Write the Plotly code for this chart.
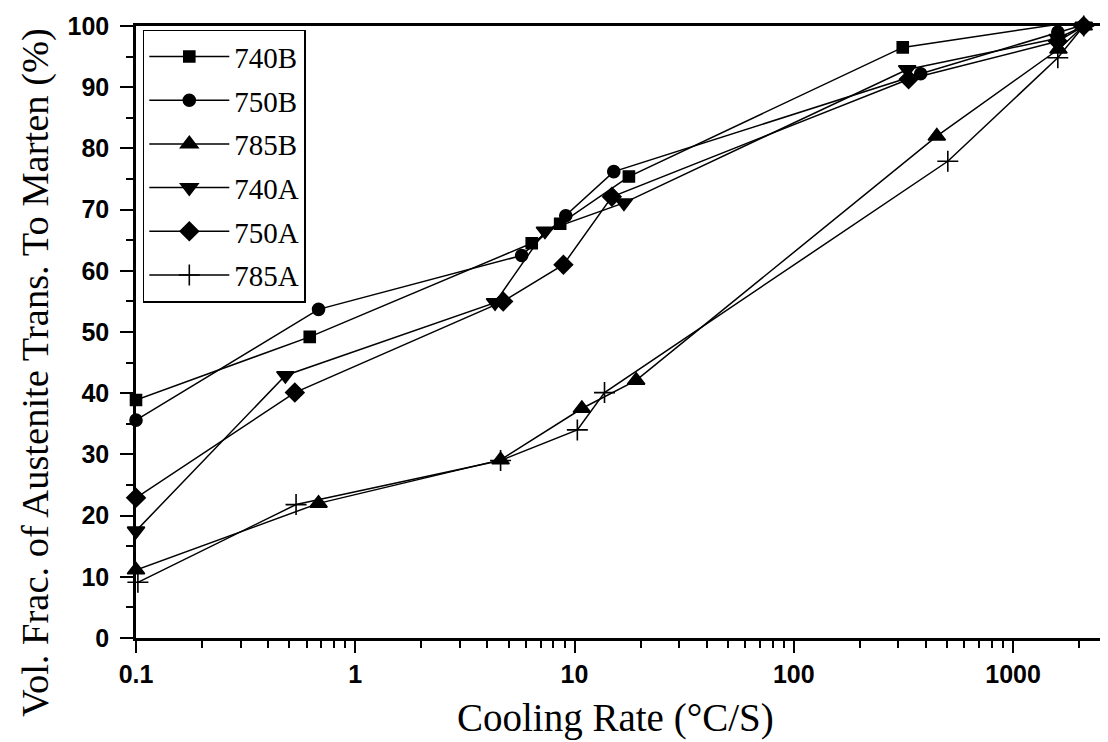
import plotly.graph_objects as go

# ---- data ----
names = ["740B", "750B", "785B", "740A", "750A", "785A"]

x_740B = [0.1, 0.62, 6.38, 8.6, 17.7, 314, 1620]
y_740B = [38.9, 49.2, 64.5, 67.7, 75.4, 96.5, 100.3]

x_750B = [0.1, 0.68, 5.74, 9.12, 15.1, 379, 1600, 2100]
y_750B = [35.6, 53.7, 62.5, 69.0, 76.2, 92.2, 99.0, 100.2]

x_785B = [0.1, 0.68, 4.6, 10.8, 19.1, 449, 1611, 2100]
y_785B = [11.1, 22.0, 29.1, 37.5, 42.1, 82.0, 96.2, 100.0]

x_740A = [0.1, 0.48, 4.34, 7.33, 16.8, 329, 1600, 2100]
y_740A = [17.5, 42.9, 54.8, 66.5, 71.1, 92.9, 98.0, 100.0]

x_750A = [0.1, 0.53, 4.73, 8.9, 14.8, 334, 1600, 2100]
y_750A = [22.9, 40.1, 55.0, 61.0, 72.1, 91.3, 97.5, 100.0]

x_785A = [0.102, 0.537, 4.6, 10.3, 13.7, 504, 1600, 2100]
y_785A = [9.1, 21.8, 29.0, 34.0, 40.1, 77.9, 94.8, 100.0]

x_tickvals = [0.1, 1, 10, 100, 1000]
x_ticktext = ["0.1", "1", "10", "100", "1000"]
y_tickvals = [0, 10, 20, 30, 40, 50, 60, 70, 80, 90, 100]

x_title = "Cooling Rate (°C/S)"
y_title = "Vol. Frac. of Austenite Trans. To Marten (%)"

series_x = [x_740B, x_750B, x_785B, x_740A, x_750A, x_785A]
series_y = [y_740B, y_750B, y_785B, y_740A, y_750A, y_785A]
symbols = ["square", "circle", "triangle-up", "triangle-down", "diamond", "cross-thin"]
sizes = [11, 12, 15, 15, 14, 15]

fig = go.Figure()
for i, nm in enumerate(names):
    fig.add_trace(go.Scatter(
        x=series_x[i], y=series_y[i], name=nm, mode="lines+markers",
        legendgroup=nm,
        line=dict(color="black", width=1.5),
        marker=dict(symbol=symbols[i], size=sizes[i], color="black",
                    line=dict(color="black", width=1.6)),
        cliponaxis=False,
    ))

SERIF = "Liberation Serif, Times New Roman, serif"
SANS = "Liberation Sans, Arial, sans-serif"

# page body adds an 8px offset, so the figure is 1100x734 and margins are reduced by 8
fig.update_layout(
    width=1100, height=734,
    margin=dict(l=128, r=0, t=18, b=104),
    paper_bgcolor="white", plot_bgcolor="white",
    showlegend=True,
    legend=dict(
        x=0.007, y=0.994, xanchor="left", yanchor="top",
        bordercolor="black", borderwidth=1.5, bgcolor="white",
        font=dict(family=SERIF, size=29, color="black"),
        itemwidth=80, tracegroupgap=3,
    ),
    xaxis=dict(
        type="log", range=[-1, 3.433], automargin=False,
        tickvals=x_tickvals, ticktext=x_ticktext,
        ticks="outside", ticklen=12, tickwidth=2, tickcolor="black",
        showline=True, linewidth=2.5, linecolor="black", mirror=True,
        showgrid=False, zeroline=False,
        tickfont=dict(family=SANS, size=25, color="black", weight="bold"),
        minor=dict(ticks="outside", ticklen=7, tickwidth=2, tickcolor="black",
                   dtick="D1", showgrid=False),
    ),
    yaxis=dict(
        range=[0, 100], tickvals=y_tickvals, automargin=False,
        ticks="outside", ticklen=13, tickwidth=2, tickcolor="black",
        showline=True, linewidth=2.5, linecolor="black",
        showgrid=False, zeroline=False, ticklabelstandoff=6,
        tickfont=dict(family=SANS, size=25, color="black", weight="bold"),
        minor=dict(ticks="outside", ticklen=7, tickwidth=2, tickcolor="black",
                   dtick=5, showgrid=False),
    ),
    annotations=[
        dict(text=x_title, xref="paper", yref="paper", x=0.4928, y=-0.1307,
             xanchor="center", yanchor="middle", showarrow=False,
             font=dict(family=SERIF, size=39, color="black")),
        dict(text=y_title, xref="paper", yref="paper", x=-0.104, y=0.4346,
             xanchor="center", yanchor="middle", showarrow=False, textangle=-90,
             font=dict(family=SERIF, size=38.5, color="black")),
    ],
)

fig.write_html("out.html")
